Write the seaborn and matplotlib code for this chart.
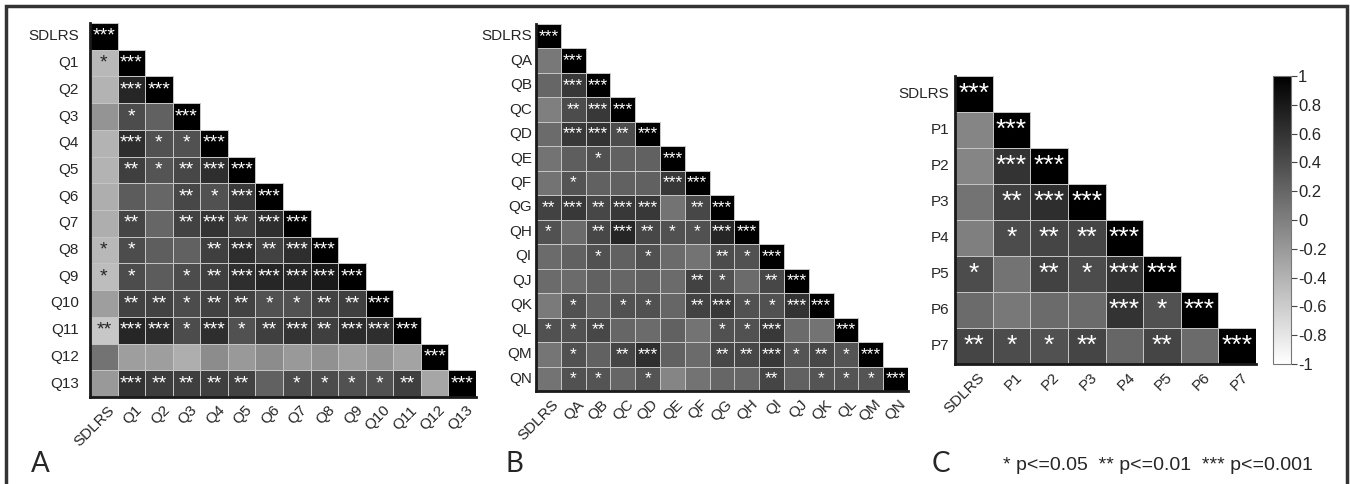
import numpy as np
import pandas as pd
import matplotlib
matplotlib.use("Agg")
import matplotlib.pyplot as plt
import matplotlib.colors as mcolors
import matplotlib.transforms as mtrans
import seaborn as sns
from matplotlib.patches import Rectangle

sns.set_style("white")
plt.rcParams['font.family'] = ['Liberation Sans', 'DejaVu Sans']

# panel A : SDLRS vs Q1..Q13 (lower triangle, row by row)
a_labels = ['SDLRS'] + ['Q%d' % i for i in range(1, 14)]
a_r = [
    [1],
    [-0.44, 1],
    [-0.40, 0.70, 1],
    [-0.16, 0.40, 0.24, 1],
    [-0.40, 0.64, 0.36, 0.36, 1],
    [-0.40, 0.50, 0.34, 0.44, 0.64, 1],
    [-0.36, 0.28, 0.20, 0.44, 0.36, 0.56, 1],
    [-0.36, 0.46, 0.20, 0.48, 0.60, 0.48, 0.64, 1],
    [-0.44, 0.40, 0.26, 0.24, 0.50, 0.64, 0.48, 0.64, 1],
    [-0.48, 0.40, 0.28, 0.40, 0.50, 0.64, 0.70, 0.70, 0.80, 1],
    [-0.24, 0.48, 0.48, 0.40, 0.48, 0.48, 0.36, 0.36, 0.48, 0.50, 1],
    [-0.56, 0.70, 0.66, 0.40, 0.64, 0.36, 0.50, 0.60, 0.50, 0.66, 0.64, 1],
    [0.10, -0.24, -0.24, -0.36, -0.10, -0.20, -0.10, -0.20, -0.14, -0.24, -0.16, -0.28, 1],
    [-0.20, 0.60, 0.52, 0.50, 0.50, 0.48, 0.24, 0.40, 0.40, 0.36, 0.36, 0.50, -0.30, 1],
]
a_stars = [
    ['***'],
    ['*', '***'],
    ['', '***', '***'],
    ['', '*', '', '***'],
    ['', '***', '*', '*', '***'],
    ['', '**', '*', '**', '***', '***'],
    ['', '', '', '**', '*', '***', '***'],
    ['', '**', '', '**', '***', '**', '***', '***'],
    ['*', '*', '', '', '**', '***', '**', '***', '***'],
    ['*', '*', '', '*', '**', '***', '***', '***', '***', '***'],
    ['', '**', '**', '*', '**', '**', '*', '*', '**', '**', '***'],
    ['**', '***', '***', '*', '***', '*', '**', '***', '**', '***', '***', '***'],
    ['', '', '', '', '', '', '', '', '', '', '', '', '***'],
    ['', '***', '**', '**', '**', '**', '', '*', '*', '*', '*', '**', '', '***'],
]

# panel B : SDLRS vs QA..QN
b_labels = ['SDLRS'] + ['Q' + c for c in 'ABCDEFGHIJKLMN']
b_r = [
    [1],
    [0.06, 1],
    [0.20, 0.56, 1],
    [0.00, 0.40, 0.56, 1],
    [0.16, 0.56, 0.60, 0.40, 1],
    [0.10, 0.26, 0.36, 0.24, 0.24, 1],
    [0.10, 0.34, 0.24, 0.24, 0.24, 0.56, 1],
    [0.48, 0.56, 0.44, 0.56, 0.56, 0.10, 0.44, 1],
    [0.36, 0.16, 0.44, 0.70, 0.44, 0.36, 0.36, 0.70, 1],
    [0.16, 0.24, 0.36, 0.24, 0.36, 0.16, 0.10, 0.40, 0.36, 1],
    [0.16, 0.16, 0.24, 0.20, 0.24, 0.16, 0.48, 0.36, 0.16, 0.44, 1],
    [0.04, 0.36, 0.24, 0.36, 0.36, 0.20, 0.48, 0.56, 0.36, 0.36, 0.60, 1],
    [0.36, 0.36, 0.44, 0.20, 0.16, 0.24, 0.10, 0.36, 0.36, 0.56, 0.16, 0.10, 1],
    [0.08, 0.36, 0.24, 0.46, 0.64, 0.24, 0.16, 0.44, 0.44, 0.56, 0.34, 0.44, 0.34, 1],
    [0.10, 0.36, 0.34, 0.20, 0.34, -0.04, 0.10, 0.20, 0.20, 0.46, 0.24, 0.34, 0.34, 0.34, 1],
]
b_stars = [
    ['***'],
    ['', '***'],
    ['', '***', '***'],
    ['', '**', '***', '***'],
    ['', '***', '***', '**', '***'],
    ['', '', '*', '', '', '***'],
    ['', '*', '', '', '', '***', '***'],
    ['**', '***', '**', '***', '***', '', '**', '***'],
    ['*', '', '**', '***', '**', '*', '*', '***', '***'],
    ['', '', '*', '', '*', '', '', '**', '*', '***'],
    ['', '', '', '', '', '', '**', '*', '', '**', '***'],
    ['', '*', '', '*', '*', '', '**', '***', '*', '*', '***', '***'],
    ['*', '*', '**', '', '', '', '', '*', '*', '***', '', '', '***'],
    ['', '*', '', '**', '***', '', '', '**', '**', '***', '*', '**', '*', '***'],
    ['', '*', '*', '', '*', '', '', '', '', '**', '', '*', '*', '*', '***'],
]

# panel C : SDLRS vs P1..P7
c_labels = ['SDLRS'] + ['P%d' % i for i in range(1, 8)]
c_r = [
    [1],
    [-0.04, 1],
    [-0.04, 0.60, 1],
    [0.10, 0.50, 0.64, 1],
    [0.00, 0.40, 0.46, 0.46, 1],
    [0.40, 0.10, 0.48, 0.40, 0.60, 1],
    [0.16, 0.06, 0.16, 0.16, 0.60, 0.36, 1],
    [0.46, 0.40, 0.36, 0.46, 0.20, 0.46, 0.16, 1],
]
c_stars = [
    ['***'],
    ['', '***'],
    ['', '***', '***'],
    ['', '**', '***', '***'],
    ['', '*', '**', '**', '***'],
    ['*', '', '**', '*', '***', '***'],
    ['', '', '', '', '***', '*', '***'],
    ['**', '*', '*', '**', '', '**', '', '***'],
]

cbar_ticks = [1, 0.8, 0.6, 0.4, 0.2, 0, -0.2, -0.4, -0.6, -0.8, -1]


def tri(rows, fill):
    n = len(rows)
    m = np.full((n, n), fill, dtype=object)
    for i, row in enumerate(rows):
        for j, v in enumerate(row):
            m[i, j] = v
    return m


W, H = 1350, 484
fig = plt.figure(figsize=(W / 100, H / 100), dpi=100)


def panel(rect, labels, rows, stars, star_size, ypad, xshift, cax=None):
    ax = fig.add_axes(rect)
    corr = pd.DataFrame(tri(rows, np.nan).astype(float), index=labels, columns=labels)
    annot = tri(stars, '')
    mask = np.triu(np.ones(corr.shape, dtype=bool), k=1)
    sns.heatmap(corr, mask=mask, cmap='gray_r', vmin=-1, vmax=1,
                annot=annot, fmt='', annot_kws={'size': star_size},
                linewidths=0.7, linecolor='#c4c4c4',
                cbar=cax is not None, cbar_ax=cax, ax=ax)
    # no grid lines on the hidden upper triangle
    mesh = ax.collections[0]
    ec = np.tile(mcolors.to_rgba('#c4c4c4'), (mask.size, 1))
    ec[mask.ravel(), 3] = 0
    mesh.set_edgecolor(ec)
    for t in ax.texts:
        t.set_va('center')
    for s in ['left', 'bottom']:
        ax.spines[s].set_visible(True)
        ax.spines[s].set_linewidth(2)
        ax.spines[s].set_color('#1a1a1a')
        ax.spines[s].set_zorder(5)
    ax.tick_params(length=0, labelsize=11)
    ax.tick_params(axis='y', pad=ypad)
    ax.tick_params(axis='x', pad=4)
    ax.set_yticklabels(labels, rotation=0)
    ax.set_xticklabels(labels, rotation=45, ha='right', va='center',
                       rotation_mode='anchor')
    off = mtrans.ScaledTranslation(xshift / 72, -4 / 72, fig.dpi_scale_trans)
    for lab in ax.get_xticklabels():
        lab.set_transform(lab.get_transform() + off)
    return ax


panel([90 / W, 1 - 397 / H, 386 / W, 374 / H], a_labels, a_r, a_stars, 14, 8, 6)
panel([536 / W, 1 - 391 / H, 372 / W, 367 / H], b_labels, b_r, b_stars, 12.5, 3, 6)
cax = fig.add_axes([1273 / W, 1 - 364 / H, 18 / W, 288 / H])
axc = panel([955 / W, 1 - 364 / H, 301 / W, 288 / H], c_labels, c_r, c_stars, 19, 4, 6, cax=cax)

cbar = axc.collections[0].colorbar
cbar.set_ticks(cbar_ticks)
cbar.set_ticklabels(['%g' % t for t in cbar_ticks])
cax.tick_params(length=4, width=0.8, color='#444444', labelsize=12, pad=1)
cbar.outline.set_edgecolor('#777777')
cbar.outline.set_linewidth(0.8)

# panel letters and legend
for x, letter in [(31, 'A'), (506, 'B'), (932, 'C')]:
    fig.text(x / W, 1 - 472 / H, letter, fontsize=20, family=['Lato', 'DejaVu Sans'],
             va='baseline', ha='left')
fig.text(1313 / W, 1 - 470 / H, '* p<=0.05  ** p<=0.01  *** p<=0.001',
         fontsize=14, va='baseline', ha='right')

fig.add_artist(Rectangle((6 / W, -0.1), 1341 / W, 1.1 - 6 / H,
                         transform=fig.transFigure, fill=False,
                         lw=2.5, ec='#333333'))

fig.savefig('out.png', dpi=100)
